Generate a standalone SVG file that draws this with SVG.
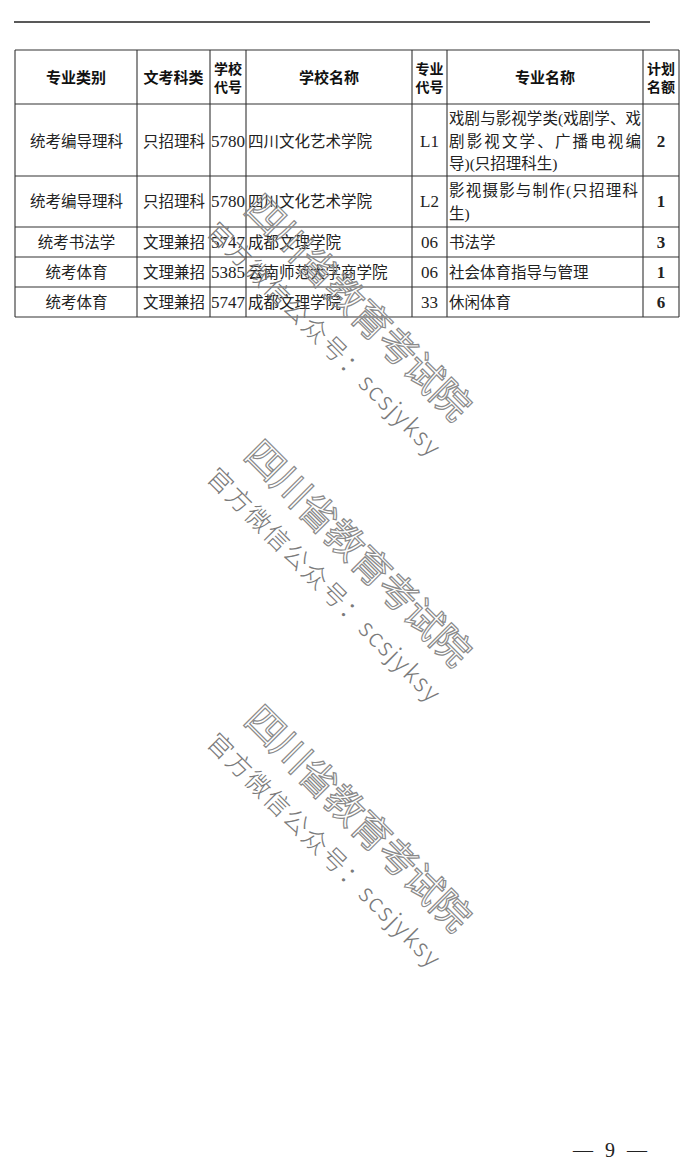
<svg xmlns="http://www.w3.org/2000/svg" width="680" height="1164" viewBox="0 0 680 1164">
<style>
.grid line{stroke:#333;stroke-width:1.1}
.h{font-family:"Noto Sans CJK SC","Noto Sans",sans-serif;font-weight:700;font-size:15px;fill:#111;text-anchor:middle}
.h2{font-size:14px}
.t{font-family:"Liberation Serif","Noto Sans CJK SC",serif;font-size:15.5px;fill:#222}
.n{font-family:"Liberation Serif",serif;font-size:17px;fill:#222}
.c{text-anchor:middle}
.b{font-weight:700}
.wm1{font-family:"Noto Sans CJK SC",sans-serif;font-size:38px;font-weight:400;fill:none;stroke:#8a8a8a;stroke-width:1.2}
.wm2{font-family:"Noto Sans CJK SC",sans-serif;font-size:25px;font-weight:300;fill:#7a7a7a}
</style>
<defs>
<g id="wm">
<text class="wm1" x="0" y="0" textLength="300" lengthAdjust="spacing">四川省教育考试院</text>
<text class="wm2" x="-11" y="41.7" textLength="318" lengthAdjust="spacing">官方微信公众号：scsjyksy</text>
</g>
</defs>
<rect width="680" height="1164" fill="#fff"/>
<line x1="14" y1="22" x2="650" y2="22" stroke="#222" stroke-width="1.5"/>
<g id="table">
<g class="grid">
<line x1="15" y1="50" x2="679" y2="50"/>
<line x1="15" y1="104" x2="679" y2="104"/>
<line x1="15" y1="176" x2="679" y2="176"/>
<line x1="15" y1="227" x2="679" y2="227"/>
<line x1="15" y1="257" x2="679" y2="257"/>
<line x1="15" y1="287" x2="679" y2="287"/>
<line x1="15" y1="317" x2="679" y2="317"/>
<line x1="15" y1="50" x2="15" y2="317"/>
<line x1="137" y1="50" x2="137" y2="317"/>
<line x1="210" y1="50" x2="210" y2="317"/>
<line x1="246" y1="50" x2="246" y2="317"/>
<line x1="412" y1="50" x2="412" y2="317"/>
<line x1="447" y1="50" x2="447" y2="317"/>
<line x1="643" y1="50" x2="643" y2="317"/>
<line x1="679" y1="50" x2="679" y2="317"/>
</g>
<g id="header">
<text class="h" x="76" y="82.5">专业类别</text>
<text class="h" x="173.5" y="82.5">文考科类</text>
<text class="h h2" x="228" y="73.5">学校</text>
<text class="h h2" x="228" y="91.5">代号</text>
<text class="h" x="329" y="82.5">学校名称</text>
<text class="h h2" x="429.5" y="73.5">专业</text>
<text class="h h2" x="429.5" y="91.5">代号</text>
<text class="h" x="545" y="82.5">专业名称</text>
<text class="h h2" x="661" y="73.5">计划</text>
<text class="h h2" x="661" y="91.5">名额</text>
</g>
<g id="row1">
<text class="t c" x="76.5" y="146.5">统考编导理科</text>
<text class="t c" x="174" y="146.5">只招理科</text>
<text class="n c" x="228" y="146.5">5780</text>
<text class="t" x="248" y="146.5">四川文化艺术学院</text>
<text class="n c" x="429.5" y="146.5">L1</text>
<text class="t" x="449" y="123.5" textLength="192" lengthAdjust="spacing">戏剧与影视学类(戏剧学、戏</text>
<text class="t" x="449" y="146.5" textLength="192" lengthAdjust="spacing">剧影视文学、广播电视编</text>
<text class="t" x="449" y="168.5">导)(只招理科生)</text>
<text class="n c b" x="661" y="146.5">2</text>
</g>
<g id="row2">
<text class="t c" x="76.5" y="207">统考编导理科</text>
<text class="t c" x="174" y="207">只招理科</text>
<text class="n c" x="228" y="207">5780</text>
<text class="t" x="248" y="207">四川文化艺术学院</text>
<text class="n c" x="429.5" y="207">L2</text>
<text class="t" x="449" y="195.5" textLength="189" lengthAdjust="spacing">影视摄影与制作(只招理科</text>
<text class="t" x="449" y="218.5">生)</text>
<text class="n c b" x="661" y="207">1</text>
</g>
<g id="row3">
<text class="t c" x="76.5" y="247.5">统考书法学</text>
<text class="t c" x="174" y="247.5">文理兼招</text>
<text class="n c" x="228" y="247.5">5747</text>
<text class="t" x="248" y="247.5">成都文理学院</text>
<text class="n c" x="429.5" y="247.5">06</text>
<text class="t" x="449" y="247.5">书法学</text>
<text class="n c b" x="661" y="247.5">3</text>
</g>
<g id="row4">
<text class="t c" x="76.5" y="277.5">统考体育</text>
<text class="t c" x="174" y="277.5">文理兼招</text>
<text class="n c" x="228" y="277.5">5385</text>
<text class="t" x="248" y="277.5">云南师范大学商学院</text>
<text class="n c" x="429.5" y="277.5">06</text>
<text class="t" x="449" y="277.5">社会体育指导与管理</text>
<text class="n c b" x="661" y="277.5">1</text>
</g>
<g id="row5">
<text class="t c" x="76.5" y="308">统考体育</text>
<text class="t c" x="174" y="308">文理兼招</text>
<text class="n c" x="228" y="308">5747</text>
<text class="t" x="248" y="308">成都文理学院</text>
<text class="n c" x="429.5" y="308">33</text>
<text class="t" x="449" y="308">休闲体育</text>
<text class="n c b" x="661" y="308">6</text>
</g>
</g>
<g id="watermarks">
<use href="#wm" transform="translate(242.4,211) rotate(45)"/>
<use href="#wm" transform="translate(242.4,456.8) rotate(45)"/>
<use href="#wm" transform="translate(242.4,722) rotate(45)"/>
</g>
<text id="page" x="573" y="1157" font-family="Liberation Serif,serif" font-size="20" fill="#222" textLength="74" lengthAdjust="spacing">— 9 —</text>
</svg>
